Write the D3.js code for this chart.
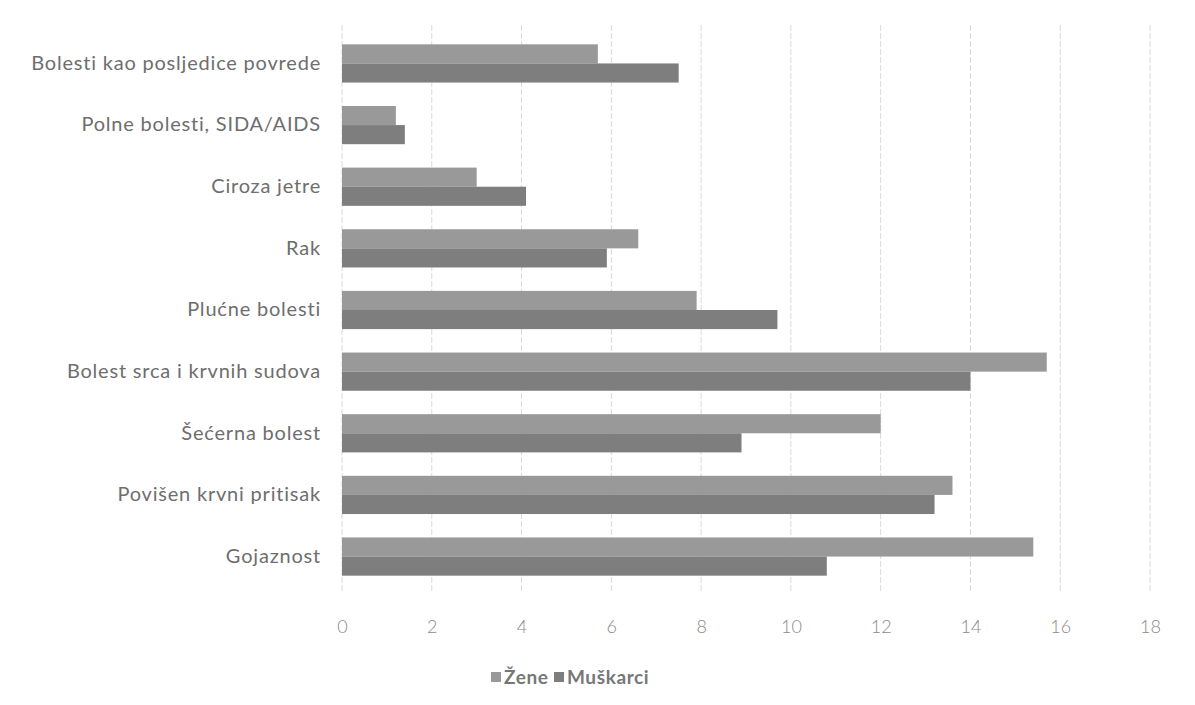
<!DOCTYPE html>
<html>
<head>
<meta charset="utf-8">
<script src="https://cdn.jsdelivr.net/npm/d3@7"></script>
<style>
  html, body { margin: 0; padding: 0; background: #fff; }
  svg { display: block; }
</style>
</head>
<body>
<svg id="chart" width="1195" height="705"></svg>
<script>
const categories = [
  "Bolesti kao posljedice povrede",
  "Polne bolesti, SIDA/AIDS",
  "Ciroza jetre",
  "Rak",
  "Plućne bolesti",
  "Bolest srca i krvnih sudova",
  "Šećerna bolest",
  "Povišen krvni pritisak",
  "Gojaznost"
];
const seriesNames = ["Žene", "Muškarci"];
const zene =     [5.7, 1.2, 3.0, 6.6, 7.9, 15.7, 12.0, 13.6, 15.4];
const muskarci = [7.5, 1.4, 4.1, 5.9, 9.7, 14.0,  8.9, 13.2, 10.8];
const xTicks = [0, 2, 4, 6, 8, 10, 12, 14, 16, 18];

const colors = { "Žene": "#999999", "Muškarci": "#7e7e7e" };
const rows = categories.map((c, i) => ({ cat: c, values: [
  { key: "Žene", v: zene[i] }, { key: "Muškarci", v: muskarci[i] }
]}));

const svg = d3.select("#chart");
const margin = { left: 342, right: 1150, top: 32, bottom: 588 };

const x = d3.scaleLinear().domain([0, 18]).range([margin.left, margin.right]);
const y = d3.scaleBand().domain(categories).range([margin.top, margin.bottom]).paddingInner(0.38).paddingOuter(0.2);
const ySub = d3.scaleBand().domain(seriesNames).range([0, y.bandwidth()]);

// gridlines
svg.append("g").selectAll("line").data(xTicks).join("line")
  .attr("x1", d => x(d)).attr("x2", d => x(d))
  .attr("y1", 25).attr("y2", 592)
  .attr("stroke", "#dadada").attr("stroke-width", 1)
  .attr("stroke-dasharray", "6,2");

// bars
const g = svg.append("g");
g.selectAll("g.row").data(rows).join("g")
  .attr("transform", d => `translate(0,${y(d.cat)})`)
  .selectAll("rect").data(d => d.values).join("rect")
  .attr("x", x(0))
  .attr("y", d => ySub(d.key))
  .attr("width", d => x(d.v) - x(0))
  .attr("height", ySub.bandwidth())
  .attr("fill", d => colors[d.key]);

// x axis labels
const xAxis = d3.axisBottom(x).tickValues(xTicks).tickSize(0).tickPadding(0);
const xa = svg.append("g").attr("transform", "translate(0,620)").call(xAxis);
xa.select(".domain").remove();
xa.selectAll("text")
  .attr("font-family", "Lato, 'Open Sans', sans-serif")
  .attr("font-weight", 300)
  .attr("font-size", 18)
  .attr("fill", "#8a8a8a");

// y axis labels
const yAxis = d3.axisLeft(y).tickSize(0).tickPadding(21);
const ya = svg.append("g").attr("transform", `translate(${x(0)},0)`).call(yAxis);
ya.select(".domain").remove();
ya.selectAll("text")
  .attr("font-family", "Lato, 'Open Sans', sans-serif")
  .attr("font-size", 20)
  .attr("letter-spacing", 0.8)
  .attr("fill", "#6e6e6e");

// legend
const legend = svg.append("g").attr("transform", "translate(491,677)");
const items = [{ k: "Žene", x: 0 }, { k: "Muškarci", x: 63 }];
const li = legend.selectAll("g").data(items).join("g").attr("transform", d => `translate(${d.x},0)`);
li.append("rect").attr("x", 0).attr("y", -5).attr("width", 10).attr("height", 10).attr("fill", d => colors[d.k]);
li.append("text").attr("x", 13).attr("y", 0).attr("dy", "0.36em")
  .attr("font-family", "Lato, 'Open Sans', sans-serif")
  .attr("font-weight", 700)
  .attr("font-size", 19)
  .attr("letter-spacing", 0.6)
  .attr("fill", "#777")
  .text(d => d.k);
</script>
</body>
</html>
